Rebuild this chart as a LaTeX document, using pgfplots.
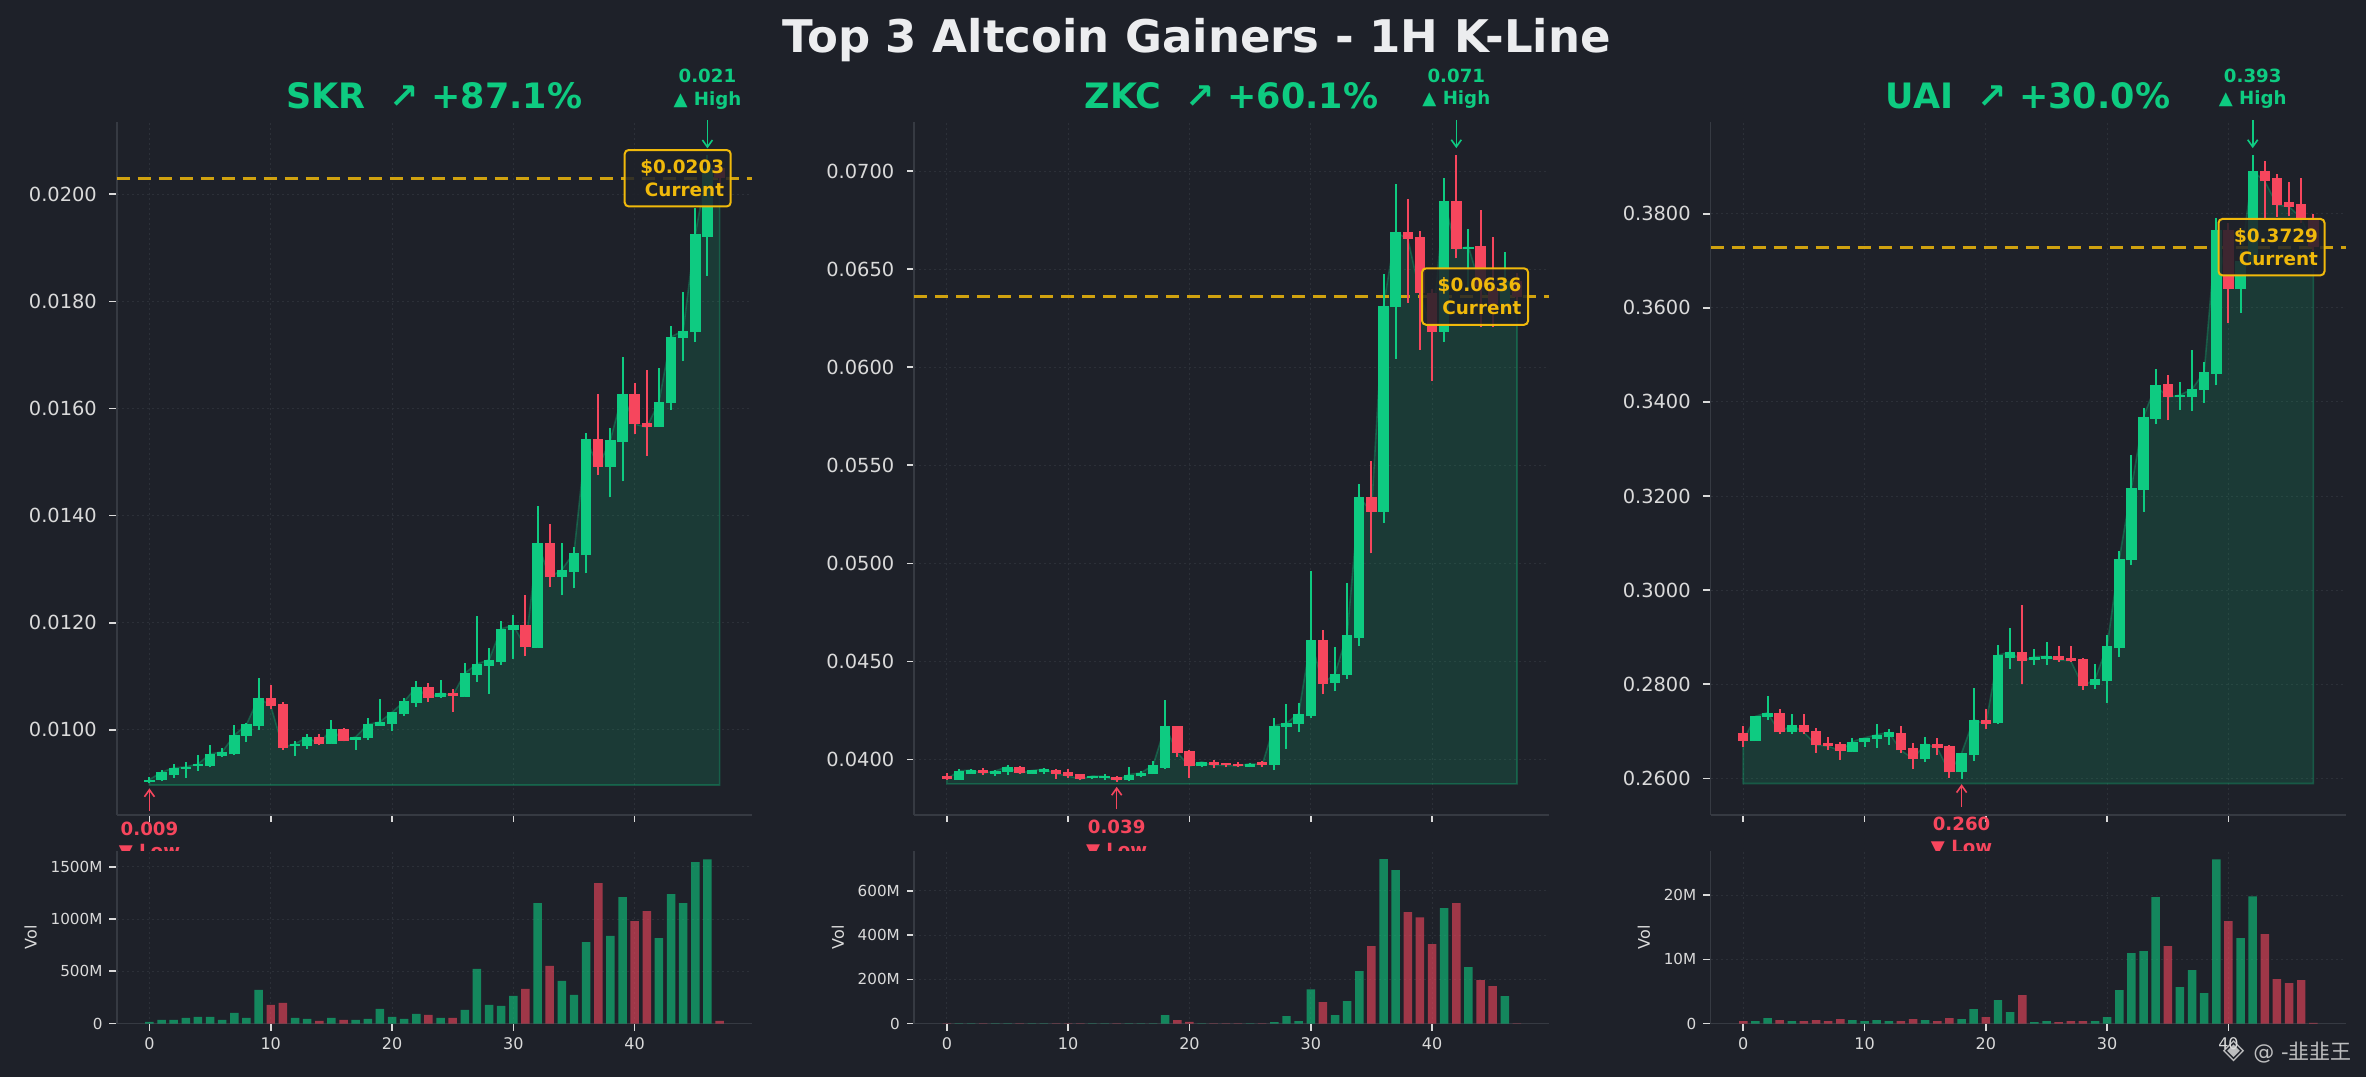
\documentclass[border=0pt]{standalone}
\usepackage{fontspec}
\setmainfont{DejaVu Sans}
\newfontfamily\cjk{Noto Sans CJK SC}
\usepackage{pgfplots}
\pgfplotsset{compat=1.18}
\usepackage{pgfplotstable}
\usetikzlibrary{arrows.meta}

\definecolor{bg}{HTML}{1E2129}
\definecolor{upc}{HTML}{0ECB81}
\definecolor{dnc}{HTML}{F6465D}
\definecolor{gold}{HTML}{F0B90B}
\definecolor{spine}{HTML}{363A42}
\definecolor{tickc}{HTML}{DADADA}
\definecolor{gridc}{HTML}{2C3038}
\definecolor{titlec}{HTML}{ECEDEF}

% i  open  high  low  close  volume(M)
\pgfplotstableread{
i O H L C V
0 0.00903 0.00912 0.00900 0.00907 16
1 0.00906 0.00925 0.00904 0.00921 35
2 0.00916 0.00936 0.00910 0.00929 35
3 0.00927 0.00940 0.00910 0.00931 54
4 0.00933 0.00953 0.00923 0.00936 64
5 0.00933 0.00972 0.00930 0.00955 64
6 0.00952 0.00967 0.00949 0.00959 35
7 0.00954 0.01009 0.00953 0.00990 102
8 0.00989 0.01013 0.00977 0.01010 54
9 0.01007 0.01096 0.01000 0.01060 322
10 0.01060 0.01084 0.01039 0.01045 178
11 0.01048 0.01052 0.00963 0.00967 197
12 0.00969 0.00980 0.00952 0.00974 54
13 0.00969 0.00993 0.00964 0.00986 45
14 0.00986 0.00993 0.00971 0.00974 25
15 0.00974 0.01019 0.00974 0.01002 54
16 0.01002 0.01004 0.00979 0.00980 35
17 0.00981 0.00987 0.00963 0.00987 35
18 0.00985 0.01023 0.00981 0.01010 45
19 0.01007 0.01058 0.01007 0.01015 140
20 0.01011 0.01033 0.00998 0.01033 64
21 0.01030 0.01060 0.01026 0.01053 45
22 0.01051 0.01092 0.01043 0.01080 92
23 0.01080 0.01088 0.01052 0.01060 83
24 0.01062 0.01094 0.01060 0.01069 54
25 0.01069 0.01076 0.01033 0.01064 54
26 0.01062 0.01125 0.01062 0.01106 131
27 0.01103 0.01213 0.01090 0.01123 522
28 0.01120 0.01153 0.01067 0.01131 178
29 0.01127 0.01203 0.01122 0.01189 169
30 0.01186 0.01215 0.01133 0.01195 264
31 0.01195 0.01252 0.01137 0.01155 331
32 0.01153 0.01418 0.01153 0.01349 1153
33 0.01349 0.01385 0.01266 0.01285 551
34 0.01285 0.01348 0.01251 0.01299 408
35 0.01295 0.01341 0.01264 0.01331 274
36 0.01326 0.01555 0.01292 0.01543 780
37 0.01543 0.01627 0.01476 0.01491 1344
38 0.01491 0.01564 0.01434 0.01541 838
39 0.01537 0.01697 0.01464 0.01627 1210
40 0.01628 0.01648 0.01552 0.01571 981
41 0.01573 0.01672 0.01511 0.01565 1076
42 0.01565 0.01676 0.01565 0.01612 818
43 0.01610 0.01754 0.01598 0.01734 1239
44 0.01731 0.01817 0.01689 0.01745 1153
45 0.01742 0.01974 0.01724 0.01925 1545
46 0.01921 0.02073 0.01848 0.02050 1573
47 0.02050 0.02060 0.02020 0.02030 25
}\skr

\pgfplotstableread{
i O H L C V
0 0.03918 0.03930 0.03895 0.03900 1
1 0.03895 0.03951 0.03895 0.03942 1
2 0.03928 0.03950 0.03925 0.03946 1
3 0.03946 0.03956 0.03923 0.03930 1
4 0.03928 0.03944 0.03916 0.03942 1
5 0.03935 0.03974 0.03923 0.03963 1
6 0.03963 0.03965 0.03928 0.03930 1
7 0.03928 0.03946 0.03925 0.03944 1
8 0.03935 0.03956 0.03928 0.03951 1
9 0.03946 0.03950 0.03900 0.03928 1
10 0.03937 0.03951 0.03904 0.03916 1
11 0.03925 0.03927 0.03893 0.03900 1
12 0.03904 0.03916 0.03900 0.03916 1
13 0.03904 0.03925 0.03893 0.03914 1
14 0.03911 0.03914 0.03886 0.03893 1
15 0.03893 0.03963 0.03888 0.03923 1
16 0.03914 0.03939 0.03909 0.03932 1
17 0.03925 0.03993 0.03925 0.03970 1
18 0.03958 0.04304 0.03951 0.04169 38
19 0.04169 0.04171 0.04012 0.04035 15
20 0.04045 0.04047 0.03904 0.03965 7
21 0.03965 0.03988 0.03960 0.03988 1
22 0.03988 0.03998 0.03956 0.03970 1
23 0.03981 0.03983 0.03960 0.03970 1
24 0.03979 0.03988 0.03963 0.03967 1
25 0.03963 0.03981 0.03960 0.03979 1
26 0.03988 0.03993 0.03963 0.03974 1
27 0.03974 0.04213 0.03946 0.04173 6
28 0.04166 0.04283 0.04054 0.04185 33
29 0.04180 0.04290 0.04138 0.04234 11
30 0.04220 0.04960 0.04213 0.04609 155
31 0.04609 0.04660 0.04332 0.04386 97
32 0.04391 0.04571 0.04349 0.04438 38
33 0.04433 0.04899 0.04410 0.04637 101
34 0.04620 0.05407 0.04578 0.05339 237
35 0.05339 0.05521 0.05051 0.05261 350
36 0.05261 0.06474 0.05205 0.06314 744
37 0.06305 0.06935 0.06041 0.06689 694
38 0.06689 0.06857 0.06328 0.06654 504
39 0.06665 0.06696 0.06087 0.06380 481
40 0.06380 0.06400 0.05931 0.06181 359
41 0.06181 0.06965 0.06130 0.06848 522
42 0.06848 0.07082 0.06555 0.06602 545
43 0.06602 0.06703 0.06400 0.06614 255
44 0.06619 0.06801 0.06204 0.06410 196
45 0.06410 0.06665 0.06204 0.06320 169
46 0.06320 0.06586 0.06280 0.06440 124
47 0.06440 0.06480 0.06330 0.06360 1
}\zkc

\pgfplotstableread{
i O H L C V
0 0.26956 0.27103 0.26664 0.26790 0.36
1 0.26790 0.27317 0.26790 0.27317 0.36
2 0.27298 0.27756 0.27249 0.27395 0.83
3 0.27395 0.27464 0.26937 0.26976 0.52
4 0.26976 0.27376 0.26937 0.27132 0.36
5 0.27132 0.27376 0.26937 0.26976 0.36
6 0.27005 0.27073 0.26547 0.26712 0.52
7 0.26761 0.26878 0.26605 0.26683 0.36
8 0.26732 0.26781 0.26390 0.26585 0.68
9 0.26566 0.26859 0.26566 0.26781 0.52
10 0.26781 0.26859 0.26664 0.26859 0.36
11 0.26829 0.27151 0.26644 0.26927 0.52
12 0.26878 0.27054 0.26712 0.26976 0.36
13 0.26956 0.27122 0.26537 0.26595 0.36
14 0.26644 0.26761 0.26195 0.26420 0.68
15 0.26400 0.26878 0.26342 0.26732 0.52
16 0.26732 0.26859 0.26488 0.26644 0.36
17 0.26683 0.26712 0.26010 0.26127 0.83
18 0.26127 0.26488 0.25981 0.26537 0.68
19 0.26498 0.27912 0.26371 0.27249 2.23
20 0.27249 0.27464 0.27054 0.27151 0.99
21 0.27181 0.28829 0.27151 0.28615 3.64
22 0.28566 0.29200 0.28322 0.28683 1.77
23 0.28683 0.29688 0.28010 0.28498 4.42
24 0.28517 0.28742 0.28400 0.28586 0.2
25 0.28537 0.28907 0.28400 0.28595 0.36
26 0.28595 0.28810 0.28468 0.28517 0.2
27 0.28566 0.28810 0.28468 0.28498 0.36
28 0.28537 0.28566 0.27883 0.27961 0.36
29 0.27981 0.28420 0.27902 0.28107 0.36
30 0.28078 0.29054 0.27610 0.28810 0.99
31 0.28761 0.30829 0.28586 0.30664 5.2
32 0.30634 0.32878 0.30537 0.32176 10.96
33 0.32127 0.33864 0.31668 0.33688 11.27
34 0.33639 0.34693 0.33522 0.34351 19.7
35 0.34371 0.34566 0.33610 0.34098 12.05
36 0.34098 0.34420 0.33834 0.34146 5.66
37 0.34098 0.35102 0.33815 0.34273 8.31
38 0.34254 0.34839 0.33980 0.34634 4.73
39 0.34595 0.37900 0.34351 0.37659 25.6
40 0.37659 0.37800 0.35680 0.36400 15.95
41 0.36400 0.37200 0.35890 0.37000 13.3
42 0.37000 0.39250 0.36900 0.38910 19.84
43 0.38910 0.39130 0.37880 0.38690 13.92
44 0.38760 0.38840 0.37930 0.38190 6.91
45 0.38260 0.38670 0.37950 0.38150 6.29
46 0.38210 0.38760 0.37800 0.37910 6.75
47 0.37910 0.38000 0.37200 0.37290 0.1
}\uai

\pgfplotsset{
  /pgf/number format/assume math mode=true,
  common/.style={
    scale only axis, width=317.5pt,
    xmin=-2.7, xmax=49.65,
    axis x line*=bottom, axis y line*=left,
    axis line style={draw=spine, line width=0.8pt, -},
    tick align=outside, major tick length=3.6pt,
    tick style={draw=tickc, line width=0.8pt},
    xtick={0,10,20,30,40},
    grid=major,
    major grid style={draw=gridc, line width=0.5pt, dash pattern=on 1pt off 1.5pt},
    axis background/.style={fill=bg},
  },
  mainax/.style={
    common, height=346.5pt, anchor=south west,
    xticklabels={},
    scaled y ticks=false,
    yticklabel style={font=\fontsize{9.7}{11}\selectfont, text=tickc, xshift=-2.8pt,
      /pgf/number format/fixed, /pgf/number format/fixed zerofill,
      /pgf/number format/precision=4},
    clip=false,
  },
  volax/.style={
    common, height=86.25pt, anchor=south west, ymin=0,
    xticklabel style={font=\fontsize{8}{9.6}\selectfont, text=tickc},
    yticklabel style={font=\fontsize{7.6}{9}\selectfont, text=tickc},
    ylabel={Vol}, ylabel style={font=\fontsize{8}{9.6}\selectfont, text=tickc},
  },
  nomark/.style={only marks, mark=*, mark size=0pt, mark options={draw=none, fill=none}, forget plot},
}

\newcommand{\candles}[1]{%
  \addplot[nomark, error bars/.cd, y dir=plus, y explicit, error mark=none,
    error bar style={draw=upc, line width=1pt}]
    table[x=i, y expr={\thisrow{C}>=\thisrow{O} ? \thisrow{L} : nan}, y error plus expr={\thisrow{H}-\thisrow{L}}] {#1};
  \addplot[nomark, error bars/.cd, y dir=plus, y explicit, error mark=none,
    error bar style={draw=dnc, line width=1pt}]
    table[x=i, y expr={\thisrow{C}<\thisrow{O} ? \thisrow{L} : nan}, y error plus expr={\thisrow{H}-\thisrow{L}}] {#1};
  \addplot[nomark, error bars/.cd, y dir=plus, y explicit, error mark=none,
    error bar style={draw=upc, line width=5.2pt}]
    table[x=i, y expr={\thisrow{C}>=\thisrow{O} ? \thisrow{O} : nan}, y error plus expr={\thisrow{C}-\thisrow{O}}] {#1};
  \addplot[nomark, error bars/.cd, y dir=plus, y explicit, error mark=none,
    error bar style={draw=dnc, line width=5.2pt}]
    table[x=i, y expr={\thisrow{C}<\thisrow{O} ? \thisrow{C} : nan}, y error plus expr={\thisrow{O}-\thisrow{C}}] {#1};
}
\newcommand{\vols}[1]{%
  \addplot[ybar, bar width=0.7, bar shift=0pt, draw=none, fill=upc, fill opacity=0.6, mark=none, forget plot]
    table[x=i, y expr={\thisrow{C}>=\thisrow{O} ? \thisrow{V} : nan}] {#1};
  \addplot[ybar, bar width=0.7, bar shift=0pt, draw=none, fill=dnc, fill opacity=0.6, mark=none, forget plot]
    table[x=i, y expr={\thisrow{C}<\thisrow{O} ? \thisrow{V} : nan}] {#1};
}
\newcommand{\area}[2]{%
  \addplot[fill=upc, fill opacity=0.15, draw=upc, draw opacity=0.3, line width=0.8pt, mark=none, forget plot]
    table[x=i, y=C] {#1} -- (axis cs:47,#2) -- (axis cs:0,#2) -- cycle;
}
\newcommand{\curline}[1]{%
  \addplot[draw=gold, draw opacity=0.85, line width=1.6pt, dash pattern=on 6.5pt off 4pt, mark=none, forget plot]
    coordinates {(-2.7,#1) (49.65,#1)};
}
\newcommand{\curbox}[2]{%
  \node[anchor=east, fill=bg, fill opacity=0.85, text opacity=1, draw=gold, draw opacity=1, line width=1pt,
    rounded corners=2pt, inner xsep=3.3pt, inner ysep=4.8pt, align=right, text=gold,
    font=\bfseries\fontsize{9.2}{11.5}\selectfont] at ([xshift=-10pt]axis cs:49.65,#1) {\hspace*{4.5pt}\$#2\\Current};
}
\newcommand{\high}[3]{%
  \node[anchor=base, text=upc, font=\bfseries\fontsize{9.1}{11}\selectfont] at ([yshift=36.3pt]axis cs:#1,#2) {#3};
  \node[anchor=base, text=upc, font=\bfseries\fontsize{9.1}{11}\selectfont] at ([yshift=25pt]axis cs:#1,#2) {▲ High};
  \draw[upc, line width=0.8pt, -{Straight Barb[length=3.5pt,width=5pt]}] ([yshift=17.5pt]axis cs:#1,#2) -- ([yshift=3.4pt]axis cs:#1,#2);
}
\newcommand{\low}[3]{%
  \node[anchor=base, text=dnc, font=\bfseries\fontsize{9.1}{11}\selectfont] at ([yshift=-25.8pt]axis cs:#1,#2) {#3};
  \node[anchor=base, text=dnc, font=\bfseries\fontsize{9.1}{11}\selectfont] at ([yshift=-37.2pt]axis cs:#1,#2) {▼ Low};
  \draw[dnc, line width=0.8pt, -{Straight Barb[length=3.5pt,width=5pt]}] ([yshift=-13.7pt]axis cs:#1,#2) -- ([yshift=-2.5pt]axis cs:#1,#2);
}
\newcommand{\ptitle}[1]{%
  \node[anchor=base, text=upc, font=\bfseries\fontsize{17.5}{20}\selectfont] at ([yshift=6.5pt]rel axis cs:0.5,1) {#1};
}

\begin{document}
\begin{tikzpicture}
\fill[bg] (0,0) rectangle (1183pt,538.5pt);
\useasboundingbox (0,0) rectangle (1183pt,538.5pt);

\node[anchor=base, text=titlec, font=\bfseries\fontsize{22.5}{26}\selectfont] at (598.25pt,512.35pt) {Top 3 Altcoin Gainers - 1H K-Line};

% ---------------- SKR ----------------
\begin{axis}[mainax, at={(58.35pt,131pt)}, ymin=0.00841, ymax=0.02135,
  ytick={0.010,0.012,0.014,0.016,0.018,0.020}]
  \area{\skr}{0.00897}
  \curline{0.0203}
  \candles{\skr}
  \curbox{0.0203}{0.0203}
  \high{46}{0.02073}{0.021}
  \low{0}{0.00900}{0.009}
  \ptitle{SKR\ \ ↗ +87.1\%}
\end{axis}
\begin{axis}[volax, at={(58.35pt,26.75pt)}, ymax=1652,
  ytick={0,500,1000,1500}, yticklabels={0,500M,1000M,1500M}]
  \vols{\skr}
\end{axis}

% ---------------- ZKC ----------------
\begin{axis}[mainax, at={(457.05pt,131pt)}, ymin=0.03717, ymax=0.0725,
  ytick={0.040,0.045,0.050,0.055,0.060,0.065,0.070}]
  \area{\zkc}{0.03876}
  \curline{0.0636}
  \candles{\zkc}
  \curbox{0.0636}{0.0636}
  \high{42}{0.07082}{0.071}
  \low{14}{0.03886}{0.039}
  \ptitle{ZKC\ \ ↗ +60.1\%}
\end{axis}
\begin{axis}[volax, at={(457.05pt,26.75pt)}, ymax=781,
  ytick={0,200,400,600}, yticklabels={0,200M,400M,600M}]
  \vols{\zkc}
\end{axis}

% ---------------- UAI ----------------
\begin{axis}[mainax, at={(855.25pt,131pt)}, ymin=0.2522, ymax=0.3995,
  ytick={0.26,0.28,0.30,0.32,0.34,0.36,0.38}]
  \area{\uai}{0.2589}
  \curline{0.3729}
  \candles{\uai}
  \curbox{0.3729}{0.3729}
  \high{42}{0.3925}{0.393}
  \low{18}{0.25981}{0.260}
  \ptitle{UAI\ \ ↗ +30.0\%}
\end{axis}
\begin{axis}[volax, at={(855.25pt,26.75pt)}, ymax=26.9,
  ytick={0,10,20}, yticklabels={0,10M,20M}]
  \vols{\uai}
\end{axis}

% watermark
\node[text=tickc, opacity=0.85, font=\fontsize{14}{16}\selectfont] at (1116.75pt,12.75pt) {◈};
\node[anchor=base west, text=tickc, opacity=0.85, font=\fontsize{10.5}{12}\selectfont, inner sep=0pt] at (1126.5pt,9pt) {@ -{\cjk 韭韭王}};
\end{tikzpicture}
\end{document}
